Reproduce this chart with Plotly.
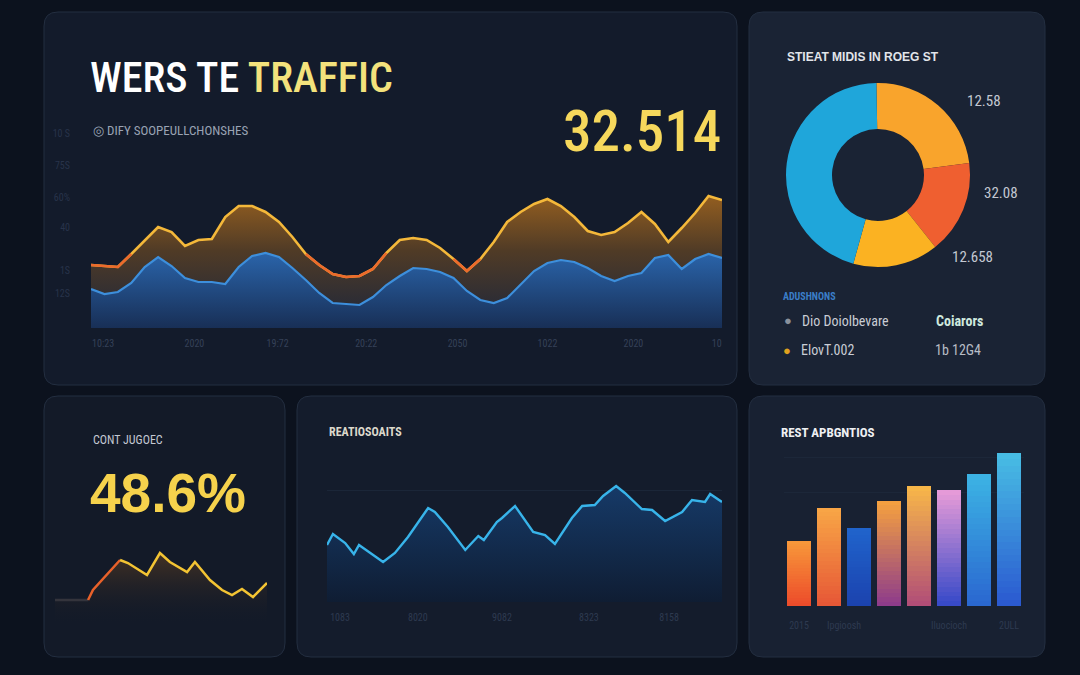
import plotly.graph_objects as go

W, H = 1080, 675

# ---------------- data ----------------
# main "traffic" area chart (two series)
traffic_upper = [63, 62, 61, 74, 87, 101, 96, 82, 88, 89, 111, 122, 122, 116, 106, 91, 74, 63, 54, 51,
                 52, 59, 75, 88, 90, 88, 80, 69, 57, 69, 86, 106, 116, 124, 129, 122, 111, 97, 93, 96,
                 105, 116, 104, 86, 100, 115, 132, 128]
traffic_lower = [39, 34, 36, 45, 61, 71, 62, 50, 46, 46, 44, 61, 72, 75, 71, 60, 48, 35, 25, 24,
                 23, 31, 43, 52, 60, 59, 56, 50, 37, 28, 25, 30, 44, 57, 65, 68, 66, 60, 52, 47,
                 52, 55, 70, 73, 59, 69, 74, 70]
traffic_x = list(range(len(traffic_upper)))
traffic_xtick_vals = [0.9, 7.7, 13.9, 20.5, 27.3, 34.0, 40.4, 46.6]
traffic_xtick_text = ["10:23", "2020", "19:72", "20:22", "2050", "1022", "2020", "10"]
traffic_ytick_vals = [35, 58, 101, 131, 163, 195]
traffic_ytick_text = ["12S", "1S", "40", "60%", "75S", "10 S"]

# donut
donut_labels = ["Orange", "Red", "Yellow", "Blue"]
donut_values = [23.2, 16.4, 15.0, 45.4]
donut_side_labels = ["12.58", "32.08", "12.658"]

# small sparkline (bottom-left)
spark_t = [0, 15.6, 17.9, 30.7, 34.4, 43.4, 49.5, 54.2, 62.3, 66.0, 73.1, 78.8, 83.5, 88.2, 93.4, 100]
spark_v = [25, 25, 35, 65, 62, 50, 72, 63, 53, 63, 45, 35, 30, 36, 28, 42]

# line chart (bottom-middle)
ratio_t = [0, 1.5, 4.6, 6.8, 8.1, 11.4, 14.2, 17.2, 20.5, 25.6, 27.3, 30.6, 35.0, 38.3, 39.7, 43.0,
           44.3, 47.6, 52.2, 55.2, 57.7, 62.0, 64.6, 67.8, 69.9, 73.2, 75.4, 79.7, 82.3, 85.6, 89.9,
           92.4, 95.7, 97.0, 100]
ratio_v = [57, 68, 59, 48, 57, 48, 40, 49, 65, 94, 90, 75, 52, 66, 62, 80, 84, 96, 70, 67, 58, 84,
           96, 97, 106, 116, 109, 93, 92, 81, 90, 102, 100, 108, 100]
ratio_tick_vals = [3.3, 23.0, 44.3, 66.3, 86.6]
ratio_tick_text = ["1083", "8020", "9082", "8323", "8158"]

# bar chart (bottom-right)
bar_cats = [0, 1, 2, 3, 4, 5, 6, 7]
bar_values = [65, 98, 78, 105, 120, 116, 132, 153]
bar_tick_vals = [0, 1.5, 5.0, 7.0]
bar_tick_text = ["2015", "Ipgioosh", "Iluocioch", "2ULL"]

# ---------------- styles ----------------
bar_top_colors = ["#f8993a", "#f8a746", "#2064cc", "#f6a23e", "#f8b848", "#e99cd8", "#3cb4e4", "#48bee4"]
bar_bot_colors = ["#ec4a2a", "#e65636", "#1b42ae", "#8c3a8c", "#b04c78", "#3448c8", "#2a66d0", "#2a58d0"]
donut_colors = ["#f9a42c", "#ef5f30", "#fbb222", "#1fa6da"]

NARROW = "Liberation Sans Narrow, Roboto Condensed, Arial Narrow, Liberation Sans, sans-serif"
SANS = "Liberation Sans, Arial, sans-serif"


def hex2rgb(h):
    h = h.lstrip("#")
    return tuple(int(h[i:i + 2], 16) for i in (0, 2, 4))


def mix(c0, c1, f):
    a, b = hex2rgb(c0), hex2rgb(c1)
    return "rgb(%d,%d,%d)" % tuple(round(a[i] + (b[i] - a[i]) * f) for i in range(3))


def px_x(p):
    return p / W


def px_y(p):
    return 1 - p / H


def rrect(x0, y0, x1, y1, r):
    X, Y = px_x, px_y
    return (f"M {X(x0 + r)},{Y(y0)} L {X(x1 - r)},{Y(y0)} Q {X(x1)},{Y(y0)} {X(x1)},{Y(y0 + r)} "
            f"L {X(x1)},{Y(y1 - r)} Q {X(x1)},{Y(y1)} {X(x1 - r)},{Y(y1)} L {X(x0 + r)},{Y(y1)} "
            f"Q {X(x0)},{Y(y1)} {X(x0)},{Y(y1 - r)} L {X(x0)},{Y(y0 + r)} Q {X(x0)},{Y(y0)} {X(x0 + r)},{Y(y0)} Z")


fig = go.Figure()

# ---------- main traffic chart ----------
fig.add_trace(go.Scatter(
    x=traffic_x, y=traffic_lower, mode="lines",
    line=dict(color="#3d8fdc", width=2.2), fill="tozeroy",
    fillgradient=dict(type="vertical", colorscale=[[0, "#182f56"], [1, "#2a64aa"]]),
    xaxis="x", yaxis="y", hoverinfo="skip"))
fig.add_trace(go.Scatter(
    x=traffic_x, y=traffic_upper, mode="lines",
    line=dict(color="#f4b83a", width=2.6), fill="tonexty",
    fillgradient=dict(type="vertical", colorscale=[[0, "#2b2c35"], [0.5, "#503b26"], [1, "#935e20"]]),
    xaxis="x", yaxis="y", hoverinfo="skip"))
low_upper = [v if v < 80 else None for v in traffic_upper]
fig.add_trace(go.Scatter(
    x=traffic_x, y=low_upper, mode="lines", connectgaps=False,
    line=dict(color="#ec6a2c", width=2.6), xaxis="x", yaxis="y", hoverinfo="skip"))

# ---------- donut ----------
fig.add_trace(go.Pie(
    labels=donut_labels, values=donut_values, hole=0.5, sort=False, direction="clockwise",
    rotation=-1, marker=dict(colors=donut_colors, line=dict(width=0)), textinfo="none",
    hoverinfo="skip", showlegend=False,
    domain=dict(x=[px_x(786), px_x(970)], y=[px_y(267), px_y(83)])))

# ---------- sparkline ----------
fig.add_trace(go.Scatter(
    x=spark_t, y=spark_v, mode="lines", line=dict(width=0), fill="tozeroy",
    fillgradient=dict(type="vertical", colorscale=[[0, "rgba(20,26,40,0)"], [1, "rgba(120,75,30,0.5)"]]),
    xaxis="x2", yaxis="y2", hoverinfo="skip"))
fig.add_trace(go.Scatter(x=spark_t[0:2], y=spark_v[0:2], mode="lines",
                         line=dict(color="#34343c", width=2.5), xaxis="x2", yaxis="y2", hoverinfo="skip"))
fig.add_trace(go.Scatter(x=spark_t[1:4], y=spark_v[1:4], mode="lines",
                         line=dict(color="#e8612a", width=2.5), xaxis="x2", yaxis="y2", hoverinfo="skip"))
fig.add_trace(go.Scatter(x=spark_t[3:], y=spark_v[3:], mode="lines",
                         line=dict(color="#f3c433", width=2.5), xaxis="x2", yaxis="y2", hoverinfo="skip"))

# ---------- ratio line chart ----------
fig.add_trace(go.Scatter(
    x=ratio_t, y=ratio_v, mode="lines", line=dict(color="#38b4ea", width=2.4), fill="tozeroy",
    fillgradient=dict(type="vertical", colorscale=[[0, "#0f1d33"], [1, "#163a68"]]),
    xaxis="x3", yaxis="y3", hoverinfo="skip"))

# ---------- bars (vertical colour gradient via stacked slices) ----------
K = 24
for k in range(K):
    f = (k + 0.5) / K
    fig.add_trace(go.Bar(
        x=bar_cats, y=[v / K for v in bar_values],
        marker=dict(color=[mix(b, t, f) for b, t in zip(bar_bot_colors, bar_top_colors)], line=dict(width=0)),
        xaxis="x4", yaxis="y4", hoverinfo="skip", showlegend=False))

# ---------- panels ----------
shapes = []
panels = [
    (44, 12, 737, 385, "#131b2b"),
    (749, 12, 1045, 385, "#1a2334"),
    (44, 396, 285, 657, "#131a28"),
    (297, 396, 737, 657, "#141c2c"),
    (749, 396, 1045, 657, "#182132"),
]
for x0, y0, x1, y1, col in panels:
    shapes.append(dict(type="path", path=rrect(x0, y0, x1, y1, 14), xref="paper", yref="paper",
                       fillcolor=col, line=dict(color="#232e40", width=1), layer="below"))

# ---------- text ----------
ann = []


def text(x, y, s, size, color, family=SANS, anchor="left", bold=False, weight=None):
    if bold:
        s = "<b>" + s + "</b>"
    font = dict(size=size, color=color, family=family)
    if weight:
        font["weight"] = weight
    ann.append(dict(x=px_x(x), y=px_y(y), xref="paper", yref="paper", text=s, showarrow=False,
                    xanchor=anchor, yanchor="middle", font=font))


text(88, 78, 'WERS TE <span style="color:#f3e27c">TRAFFIC</span>', 42, "#ffffff", NARROW, weight=500)
text(723, 131, "32.514", 57, "#f6d85c", NARROW, anchor="right", weight=500)
text(91, 130, "◎ DIFY SOOPEULLCHONSHES", 13, "#9aa3b4", NARROW)

text(785, 57, "STIEAT MIDIS IN ROEG ST", 12, "#e2e5ea", SANS, bold=True)
text(965, 101, donut_side_labels[0], 15, "#c3c8d2", NARROW)
text(982, 193, donut_side_labels[1], 15, "#c3c8d2", NARROW)
text(950, 257, donut_side_labels[2], 15, "#c3c8d2", NARROW)
text(781, 297, "ADUSHNONS", 10, "#3a7ec8", NARROW, bold=True)
text(782, 321, "●", 13, "#8a919c")
text(800, 321, "Dio Doiolbevare", 14, "#c9cdd5", NARROW)
text(934, 321, "Coiarors", 14, "#cfe9df", NARROW, bold=True)
text(781, 350, "●", 13, "#e0a21e")
text(799, 350, "ElovT.002", 14, "#c9cdd5", NARROW)
text(933, 350, "1b 12G4", 14, "#b8bdc6", NARROW)

text(91, 440, "CONT JUGOEC", 12, "#c3c8d2", NARROW)
text(88, 493, "48.6%", 55, "#f6d24c", SANS, bold=True)

text(327, 432, "REATIOSOAITS", 12, "#dcd8cb", NARROW, bold=True)
text(779, 432, "REST APBGNTIOS", 13, "#eef0f3", NARROW, bold=True)

fig.update_layout(
    width=W, height=H, margin=dict(l=0, r=0, t=0, b=0), autosize=False,
    paper_bgcolor="#0c121e", plot_bgcolor="rgba(0,0,0,0)", showlegend=False,
    barmode="stack", bargap=0.2,
    shapes=shapes, annotations=ann,
    xaxis=dict(domain=[px_x(91), px_x(722)], range=[0, 47], showgrid=False, zeroline=False,
               tickvals=traffic_xtick_vals, ticktext=traffic_xtick_text, ticklabelstandoff=8,
               tickfont=dict(size=10, color="#354158", family=NARROW), anchor="y"),
    yaxis=dict(domain=[px_y(328), px_y(118)], range=[0, 210], showgrid=False, zeroline=False,
               tickvals=traffic_ytick_vals, ticktext=traffic_ytick_text, ticklabelstandoff=20,
               tickfont=dict(size=10, color="#28334a", family=NARROW), anchor="x"),
    xaxis2=dict(domain=[px_x(55), px_x(267)], range=[0, 100], visible=False, anchor="y2"),
    yaxis2=dict(domain=[px_y(625), px_y(540)], range=[0, 85], visible=False, anchor="x2"),
    xaxis3=dict(domain=[px_x(327), px_x(722)], range=[0, 100], showgrid=False, zeroline=False,
                tickvals=ratio_tick_vals, ticktext=ratio_tick_text, ticklabelstandoff=8,
                tickfont=dict(size=10, color="#2e3a50", family=NARROW), anchor="y3"),
    yaxis3=dict(domain=[px_y(602), px_y(458)], range=[0, 144], showgrid=True, gridcolor="#1b2638",
                gridwidth=1, tickvals=[112, 144], showticklabels=False, zeroline=False, anchor="x3"),
    xaxis4=dict(domain=[px_x(784), px_x(1024)], range=[-0.5, 7.5], showgrid=False, zeroline=False,
                tickvals=bar_tick_vals, ticktext=bar_tick_text, ticklabelstandoff=12,
                tickfont=dict(size=10, color="#2e3a50", family=NARROW), anchor="y4"),
    yaxis4=dict(domain=[px_y(606), px_y(446)], range=[0, 160], showgrid=True, gridcolor="#1c2739",
                tickvals=[114, 149], showticklabels=False, zeroline=False, anchor="x4"),
)

fig.write_html("out.html")
